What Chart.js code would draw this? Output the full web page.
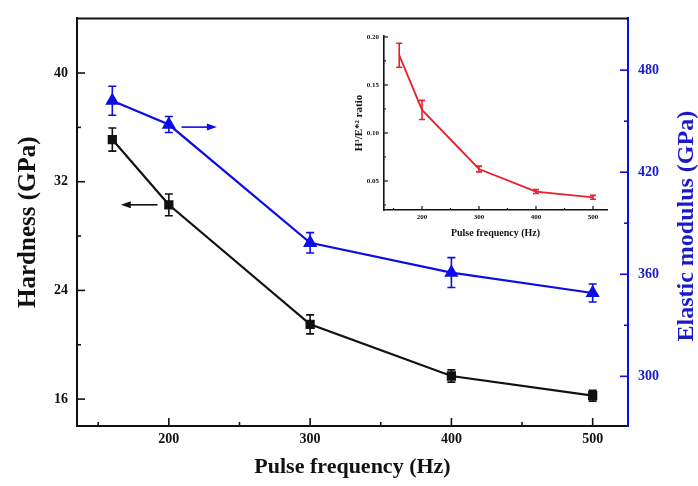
<!DOCTYPE html>
<html lang="en">
<head>
<meta charset="UTF-8" />
<title>Hardness and elastic modulus vs pulse frequency</title>
<script src="https://cdn.jsdelivr.net/npm/chart.js"></script>
<style>
  html, body { margin: 0; padding: 0; background: #fff; }
  #wrap { position: relative; width: 698px; height: 486px; }
  #main { position: absolute; left: 0; top: 0; }
  #inset { position: absolute; left: 330px; top: 22px; }
</style>
</head>
<body>
<div id="wrap">
  <canvas id="main" width="698" height="486"></canvas>
  <canvas id="inset" width="290" height="220"></canvas>
</div>

<script>
// measured values
const freq = [160, 200, 300, 400, 500];
const hardness = [35.1, 30.3, 21.5, 17.7, 16.25];
const hardnessErr = [0.85, 0.8, 0.7, 0.45, 0.4];
const modulus = [462, 448, 378.5, 361, 349];
const modulusErr = [8.5, 4.7, 6, 8.8, 5.3];
const ratio = [0.181, 0.124, 0.0625, 0.039, 0.033];
const ratioErr = [0.0125, 0.01, 0.003, 0.002, 0.002];

// axis ticks
const xTicks = [200, 300, 400, 500];
const xMinor = [150, 250, 350, 450];
const hardTicks = [16, 24, 32, 40];
const hardMinor = [20, 28, 36];
const modTicks = [300, 360, 420, 480];
const modMinor = [330, 390, 450];
const ratioTicks = [0.05, 0.10, 0.15, 0.20];
const ratioMinor = [0.025, 0.075, 0.125, 0.175];

// arrows telling which curve goes with which axis
const arrows = [
  { axis: 'y', from: [192, 30.3], to: [166, 30.3], color: '#111' },
  { axis: 'y2', from: [209, 446.5], to: [234, 446.5], color: '#0d0de6' }
];

const BLACK = '#111';
const BLUE = '#0d0de6';
const BLUE_TXT = '#1a1ac8';
const RED = '#e8202a';
const SERIF = "'Liberation Serif', 'Times New Roman', serif";

const pts = (xs, ys) => xs.map((x, i) => ({ x: x, y: ys[i] }));
const fixTicks = list => s => { s.ticks = list.map(v => ({ value: v })); };

// vertical error bars with caps
const errorBars = {
  id: 'errorBars',
  afterDatasetsDraw(chart) {
    const ctx = chart.ctx;
    chart.data.datasets.forEach((ds, i) => {
      if (!ds.errors) return;
      const xs = chart.scales[ds.xAxisID || 'x'];
      const ys = chart.scales[ds.yAxisID || 'y'];
      ctx.save();
      ctx.strokeStyle = ds.borderColor;
      ctx.lineWidth = ds.errWidth || 1.6;
      const cap = ds.capSize || 4;
      ds.data.forEach((p, j) => {
        const px = xs.getPixelForValue(p.x);
        const top = ys.getPixelForValue(p.y + ds.errors[j]);
        const bot = ys.getPixelForValue(p.y - ds.errors[j]);
        ctx.beginPath();
        ctx.moveTo(px, top); ctx.lineTo(px, bot);
        ctx.moveTo(px - cap, top); ctx.lineTo(px + cap, top);
        ctx.moveTo(px - cap, bot); ctx.lineTo(px + cap, bot);
        ctx.stroke();
      });
      ctx.restore();
    });
  }
};

// inward tick marks, frame line, arrows and the right-hand axis title
const tickMarks = {
  id: 'tickMarks',
  afterDraw(chart, args, opts) {
    const ctx = chart.ctx;
    const area = chart.chartArea;
    (opts.axes || []).forEach(a => {
      const s = chart.scales[a.id];
      ctx.save();
      ctx.strokeStyle = a.color;
      ctx.lineWidth = a.lineWidth || 1.6;
      const mark = (v, len) => {
        const p = s.getPixelForValue(v);
        ctx.beginPath();
        if (s.isHorizontal()) {
          ctx.moveTo(p, area.bottom); ctx.lineTo(p, area.bottom - len);
        } else if (s.position === 'left') {
          ctx.moveTo(area.left, p); ctx.lineTo(area.left + len, p);
        } else {
          ctx.moveTo(area.right, p); ctx.lineTo(area.right - len, p);
        }
        ctx.stroke();
      };
      a.major.forEach(v => mark(v, a.len));
      a.minor.forEach(v => mark(v, a.len / 2));
      ctx.restore();
    });
    if (opts.topLine) {
      ctx.save();
      ctx.strokeStyle = BLACK;
      ctx.lineWidth = 2;
      ctx.beginPath();
      ctx.moveTo(area.left - 1, area.top);
      ctx.lineTo(area.right, area.top);
      ctx.stroke();
      ctx.restore();
    }
    (opts.arrows || []).forEach(ar => {
      const xs = chart.scales.x, ys = chart.scales[ar.axis];
      const x1 = xs.getPixelForValue(ar.from[0]), y1 = ys.getPixelForValue(ar.from[1]);
      const x2 = xs.getPixelForValue(ar.to[0]), y2 = ys.getPixelForValue(ar.to[1]);
      const dir = Math.sign(x2 - x1);
      ctx.save();
      ctx.strokeStyle = ar.color;
      ctx.fillStyle = ar.color;
      ctx.lineWidth = 1.6;
      ctx.beginPath();
      ctx.moveTo(x1, y1); ctx.lineTo(x2 - dir * 8, y2);
      ctx.stroke();
      ctx.beginPath();
      ctx.moveTo(x2, y2);
      ctx.lineTo(x2 - dir * 10, y2 - 3.5);
      ctx.lineTo(x2 - dir * 10, y2 + 3.5);
      ctx.closePath();
      ctx.fill();
      ctx.restore();
    });
    if (opts.rightTitle) {
      // reads bottom-to-top like the left one
      const t = opts.rightTitle;
      const s = chart.scales[t.axis];
      ctx.save();
      ctx.translate(s.right - t.offset, (area.top + area.bottom) / 2 + t.shift);
      ctx.rotate(-Math.PI / 2);
      ctx.fillStyle = t.color;
      ctx.font = 'bold ' + t.size + 'px ' + SERIF;
      ctx.textAlign = 'center';
      ctx.textBaseline = 'middle';
      ctx.fillText(t.text, 0, 0);
      ctx.restore();
    }
  }
};

const tickFont = { family: SERIF, size: 14, weight: 'bold' };

new Chart(document.getElementById('main'), {
  type: 'line',
  data: {
    datasets: [
      {
        label: 'Hardness',
        data: pts(freq, hardness),
        errors: hardnessErr,
        yAxisID: 'y',
        borderColor: BLACK,
        backgroundColor: BLACK,
        borderWidth: 2.2,
        pointStyle: 'rect',
        pointRadius: 5,
        capSize: 4
      },
      {
        label: 'Elastic modulus',
        data: pts(freq, modulus),
        errors: modulusErr,
        yAxisID: 'y2',
        borderColor: BLUE,
        backgroundColor: BLUE,
        borderWidth: 2.2,
        pointStyle: 'triangle',
        pointRadius: 6,
        capSize: 4
      }
    ]
  },
  options: {
    responsive: false,
    animation: false,
    layout: { padding: { top: 16, left: 0, right: 0, bottom: 0 }, autoPadding: false },
    plugins: {
      legend: { display: false },
      tooltip: { enabled: false },
      tickMarks: {
        topLine: true,
        arrows: arrows,
        rightTitle: { axis: 'y2', text: 'Elastic modulus (GPa)', color: BLUE_TXT, size: 24, offset: 11, shift: 4 },
        axes: [
          { id: 'x', major: xTicks, minor: xMinor, len: 8, color: BLACK },
          { id: 'y', major: hardTicks, minor: hardMinor, len: 8, color: BLACK },
          { id: 'y2', major: modTicks, minor: modMinor, len: 8, color: BLUE }
        ]
      }
    },
    scales: {
      x: {
        type: 'linear',
        position: 'bottom',
        min: 135,
        max: 525,
        bounds: 'data',
        afterBuildTicks: fixTicks(xTicks),
        afterFit: s => { s.height = 60; },
        grid: { display: false, drawTicks: false },
        border: { color: BLACK, width: 2 },
        ticks: { padding: 5, color: BLACK, font: tickFont, maxRotation: 0 },
        title: { display: true, text: 'Pulse frequency (Hz)', color: BLACK, font: { family: SERIF, size: 22, weight: 'bold' }, padding: { top: 0, bottom: 5 } }
      },
      y: {
        type: 'linear',
        position: 'left',
        min: 14.02,
        max: 44.02,
        bounds: 'data',
        afterBuildTicks: fixTicks(hardTicks),
        afterFit: s => { s.width = 77; },
        grid: { display: false, drawTicks: false },
        border: { color: BLACK, width: 2 },
        ticks: { padding: 9, color: BLACK, font: tickFont },
        title: { display: true, text: 'Hardness (GPa)', color: BLACK, font: { family: SERIF, size: 25, weight: 'bold' }, padding: { top: 14, bottom: 0 } }
      },
      y2: {
        type: 'linear',
        position: 'right',
        min: 270.8,
        max: 510.4,
        bounds: 'data',
        afterBuildTicks: fixTicks(modTicks),
        afterFit: s => { s.width = 70; },
        grid: { display: false, drawTicks: false },
        border: { color: BLUE, width: 2 },
        ticks: { padding: 10, color: BLUE_TXT, font: tickFont }
      }
    }
  },
  plugins: [errorBars, tickMarks]
});

// inset: H^3/E*^2 ratio
const smallTick = { family: SERIF, size: 7, weight: 'bold' };
new Chart(document.getElementById('inset'), {
  type: 'line',
  data: {
    datasets: [
      {
        label: 'H3/E2',
        data: pts(freq, ratio),
        errors: ratioErr,
        borderColor: RED,
        backgroundColor: RED,
        borderWidth: 1.8,
        pointRadius: 0,
        capSize: 3,
        errWidth: 1.6
      }
    ]
  },
  options: {
    responsive: false,
    animation: false,
    layout: { padding: { top: 14, left: 0, right: 13, bottom: 0 }, autoPadding: false },
    plugins: {
      legend: { display: false },
      tooltip: { enabled: false },
      tickMarks: {
        axes: [
          { id: 'x', major: xTicks, minor: xMinor, len: 4, color: BLACK, lineWidth: 1.2 },
          { id: 'y', major: ratioTicks, minor: ratioMinor, len: 4, color: BLACK, lineWidth: 1.2 }
        ]
      }
    },
    scales: {
      x: {
        type: 'linear',
        position: 'bottom',
        min: 133.3,
        max: 524.6,
        bounds: 'data',
        afterBuildTicks: fixTicks(xTicks),
        afterFit: s => { s.height = 32; },
        grid: { display: false, drawTicks: false },
        border: { color: BLACK, width: 1.6 },
        ticks: { padding: 3, color: BLACK, font: smallTick, maxRotation: 0 },
        title: { display: true, text: 'Pulse frequency (Hz)', color: BLACK, font: { family: SERIF, size: 10, weight: 'bold' }, padding: { top: 0, bottom: 3 } }
      },
      y: {
        type: 'linear',
        position: 'left',
        min: 0.0198,
        max: 0.201,
        bounds: 'data',
        afterBuildTicks: fixTicks(ratioTicks),
        afterFit: s => { s.width = 54; },
        grid: { display: false, drawTicks: false },
        border: { color: BLACK, width: 1.6 },
        ticks: { padding: 5, color: BLACK, font: smallTick, callback: v => v.toFixed(2) },
        title: { display: true, text: 'H³/E*² ratio', color: BLACK, font: { family: SERIF, size: 11, weight: 'bold' }, padding: { top: 23, bottom: 0 } }
      }
    }
  },
  plugins: [errorBars, tickMarks]
});
</script>
</body>
</html>
